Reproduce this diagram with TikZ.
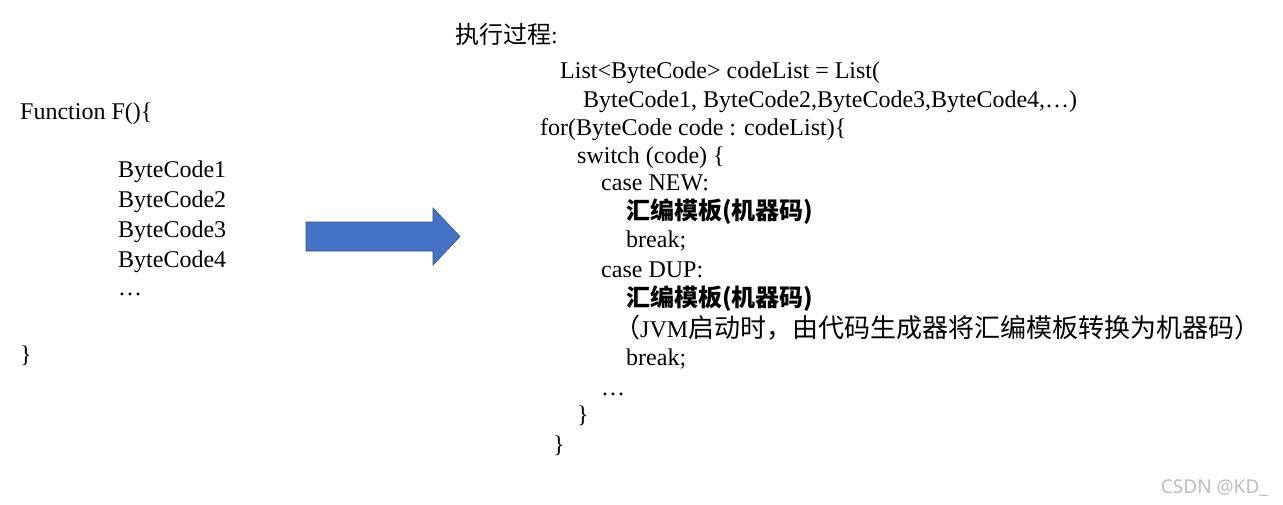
\documentclass[tikz,border=0pt]{standalone}
\usepackage{fontspec}
\setmainfont{Liberation Serif}
\newfontfamily\cjk{Noto Sans CJK SC}
\newfontfamily\markfont{Noto Sans}
\definecolor{arrow-blue}{HTML}{4472C4}
\definecolor{arrow-edge}{HTML}{2F528F}
\definecolor{mark-gray}{HTML}{BDBDBD}

\tikzset{
  code/.style={anchor=base west, inner sep=0pt,
    font=\fontsize{24}{28}\selectfont},
  zhcode/.style={code, font=\fontsize{24}{28}\selectfont\cjk},
  zhbold/.style={code, font=\fontsize{24}{28}\selectfont\cjk\bfseries}
}
\newcommand{\zhbig}[1]{{\fontsize{26}{28}\selectfont\cjk #1}}

\begin{document}
\begin{tikzpicture}[x=1pt, y=-1pt]
  \useasboundingbox (0,0) rectangle (1283,504);

  % the function before compiling
  \node[code] (fn) at (20,119) {Function F()\{};
  \foreach \i/\y in {1/177, 2/207, 3/237, 4/267}
    \node[code] (bc\i) at (118,\y) {ByteCode\i};
  \node[code] (bcdots) at (118,295) {\dots};
  \node[code] (fnend) at (20,362) {\}};

  % big arrow
  \fill[arrow-blue, draw=arrow-edge, line width=0.6pt]
    (306,222) -- (433,222) -- (433,208) -- (460,236.5)
    -- (433,265) -- (433,251) -- (306,251) -- cycle;

  % execution with templates
  \node[zhcode] (title) at (455,43) {执行过程\rmfamily:};
  \node[code] (list) at (560,78) {List<ByteCode> codeList = List(};
  \node[code] (items) at (583,107)
    {ByteCode1, ByteCode2,ByteCode3,ByteCode4,\dots)};
  \node[code] (loop) at (540,135) {for(ByteCode code : codeList)\{};
  \node[code] (switch) at (577,163) {switch (code) \{};
  \node[code] (casenew) at (601,190) {case NEW:};
  \node[zhbold] (tplnew) at (626,219) {汇编模板(机器码)};
  \node[code] (brknew) at (626,247) {break;};
  \node[code] (casedup) at (601,277) {case DUP:};
  \node[zhbold] (tpldup) at (626,306) {汇编模板(机器码)};
  \node[code] (note) at (614,337)
    {\zhbig{（}JVM\zhbig{启动时，由代码生成器将汇编模板转换为机器码）}};
  \node[code] (brkdup) at (626,365) {break;};
  \node[code] (casedots) at (601,395) {\dots};
  \node[code] (switchend) at (577,422) {\}};
  \node[code] (loopend) at (553,452) {\}};

  % watermark
  \node[anchor=base east, inner sep=0pt, text=mark-gray,
        font=\fontsize{19}{22}\selectfont\markfont]
        (mark) at (1268,493) {CSDN @KD\_};
\end{tikzpicture}
\end{document}
